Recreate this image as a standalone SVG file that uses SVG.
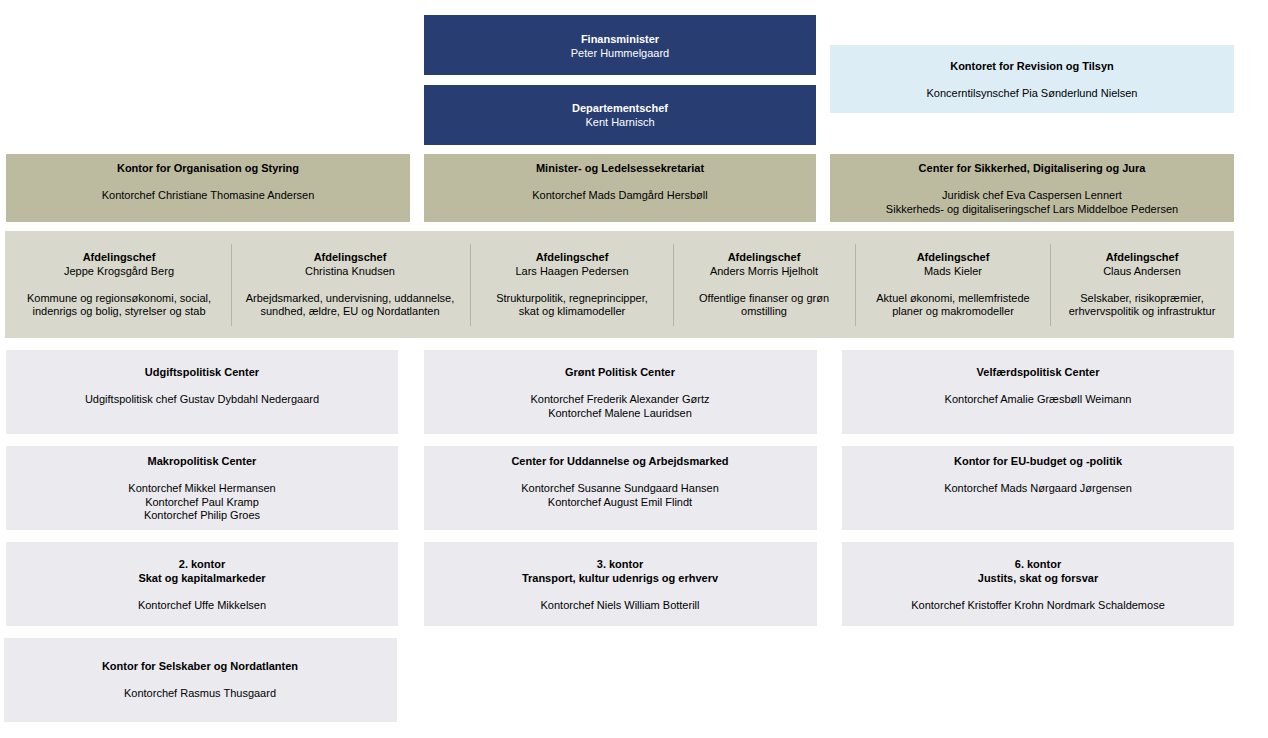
<svg xmlns="http://www.w3.org/2000/svg" width="1268" height="738" viewBox="0 0 1268 738">
<style>
text{font-family:"Liberation Sans",Arial,sans-serif;font-size:11px;text-anchor:middle;fill:#000}
.b{font-weight:bold}
.w{fill:#fff}
.navy{fill:#283d72}
.lb{fill:#ddedf5}
.tan{fill:#bcbba0}
.band{fill:#d8d8cc}
.g{fill:#ebebef}
.div{stroke:#b4b4a8;stroke-width:1}
</style>
<rect width="1268" height="738" fill="#fff"/>
<g id="minister"><rect class="navy" x="424" y="15" width="392" height="60"/><text class="b w" x="620" y="43">Finansminister</text><text class="w" x="620" y="57">Peter Hummelgaard</text></g>
<g id="depchef"><rect class="navy" x="424" y="85" width="392" height="60"/><text class="b w" x="620" y="112">Departementschef</text><text class="w" x="620" y="126">Kent Harnisch</text></g>
<g id="revision"><rect class="lb" x="830" y="45" width="404" height="68"/><text class="b" x="1032" y="70">Kontoret for Revision og Tilsyn</text><text x="1032" y="97">Koncerntilsynschef Pia Sønderlund Nielsen</text></g>
<g id="orgstyr"><rect class="tan" x="6" y="154" width="404" height="68"/><text class="b" x="208" y="172">Kontor for Organisation og Styring</text><text x="208" y="199">Kontorchef Christiane Thomasine Andersen</text></g>
<g id="minsek"><rect class="tan" x="424" y="154" width="392" height="68"/><text class="b" x="620" y="172">Minister- og Ledelsessekretariat</text><text x="620" y="199">Kontorchef Mads Damgård Hersbøll</text></g>
<g id="sikkerhed"><rect class="tan" x="830" y="154" width="404" height="68"/><text class="b" x="1032" y="172">Center for Sikkerhed, Digitalisering og Jura</text><text x="1032" y="199">Juridisk chef Eva Caspersen Lennert</text><text x="1032" y="213">Sikkerheds- og digitaliseringschef Lars Middelboe Pedersen</text></g>
<g id="afdelingschefer"><rect class="band" x="5" y="231" width="1229" height="107"/>
<path class="div" d="M231.5 244V326M470.5 244V326M673.5 244V326M855.5 244V326M1050.5 244V326"/>
<text class="b" x="119" y="261">Afdelingschef</text><text x="119" y="275">Jeppe Krogsgård Berg</text><text x="119" y="302">Kommune og regionsøkonomi, social,</text><text x="119" y="315">indenrigs og bolig, styrelser og stab</text>
<text class="b" x="350" y="261">Afdelingschef</text><text x="350" y="275">Christina Knudsen</text><text x="350" y="302">Arbejdsmarked, undervisning, uddannelse,</text><text x="350" y="315">sundhed, ældre, EU og Nordatlanten</text>
<text class="b" x="572" y="261">Afdelingschef</text><text x="572" y="275">Lars Haagen Pedersen</text><text x="572" y="302">Strukturpolitik, regneprincipper,</text><text x="572" y="315">skat og klimamodeller</text>
<text class="b" x="764" y="261">Afdelingschef</text><text x="764" y="275">Anders Morris Hjelholt</text><text x="764" y="302">Offentlige finanser og grøn</text><text x="764" y="315">omstilling</text>
<text class="b" x="953" y="261">Afdelingschef</text><text x="953" y="275">Mads Kieler</text><text x="953" y="302">Aktuel økonomi, mellemfristede</text><text x="953" y="315">planer og makromodeller</text>
<text class="b" x="1142" y="261">Afdelingschef</text><text x="1142" y="275">Claus Andersen</text><text x="1142" y="302">Selskaber, risikopræmier,</text><text x="1142" y="315">erhvervspolitik og infrastruktur</text>
</g>
<g id="udgift"><rect class="g" x="6" y="350" width="392" height="84"/><text class="b" x="202" y="376">Udgiftspolitisk Center</text><text x="202" y="403">Udgiftspolitisk chef Gustav Dybdahl Nedergaard</text></g>
<g id="groent"><rect class="g" x="424" y="350" width="393" height="84"/><text class="b" x="620" y="376">Grønt Politisk Center</text><text x="620" y="403">Kontorchef Frederik Alexander Gørtz</text><text x="620" y="417">Kontorchef Malene Lauridsen</text></g>
<g id="velfaerd"><rect class="g" x="842" y="350" width="392" height="84"/><text class="b" x="1038" y="376">Velfærdspolitisk Center</text><text x="1038" y="403">Kontorchef Amalie Græsbøll Weimann</text></g>
<g id="makro"><rect class="g" x="6" y="446" width="392" height="84"/><text class="b" x="202" y="465">Makropolitisk Center</text><text x="202" y="492">Kontorchef Mikkel Hermansen</text><text x="202" y="506">Kontorchef Paul Kramp</text><text x="202" y="519">Kontorchef Philip Groes</text></g>
<g id="uddannelse"><rect class="g" x="424" y="446" width="393" height="84"/><text class="b" x="620" y="465">Center for Uddannelse og Arbejdsmarked</text><text x="620" y="492">Kontorchef Susanne Sundgaard Hansen</text><text x="620" y="506">Kontorchef August Emil Flindt</text></g>
<g id="eubudget"><rect class="g" x="842" y="446" width="392" height="84"/><text class="b" x="1038" y="465">Kontor for EU-budget og -politik</text><text x="1038" y="492">Kontorchef Mads Nørgaard Jørgensen</text></g>
<g id="k2"><rect class="g" x="6" y="542" width="392" height="84"/><text class="b" x="202" y="568">2. kontor</text><text class="b" x="202" y="582">Skat og kapitalmarkeder</text><text x="202" y="609">Kontorchef Uffe Mikkelsen</text></g>
<g id="k3"><rect class="g" x="424" y="542" width="393" height="84"/><text class="b" x="620" y="568">3. kontor</text><text class="b" x="620" y="582">Transport, kultur udenrigs og erhverv</text><text x="620" y="609">Kontorchef Niels William Botterill</text></g>
<g id="k6"><rect class="g" x="842" y="542" width="392" height="84"/><text class="b" x="1038" y="568">6. kontor</text><text class="b" x="1038" y="582">Justits, skat og forsvar</text><text x="1038" y="609">Kontorchef Kristoffer Krohn Nordmark Schaldemose</text></g>
<g id="selskaber"><rect class="g" x="4" y="638" width="393" height="84"/><text class="b" x="200" y="670">Kontor for Selskaber og Nordatlanten</text><text x="200" y="697">Kontorchef Rasmus Thusgaard</text></g>
<g id="connectors"></g>
</svg>
